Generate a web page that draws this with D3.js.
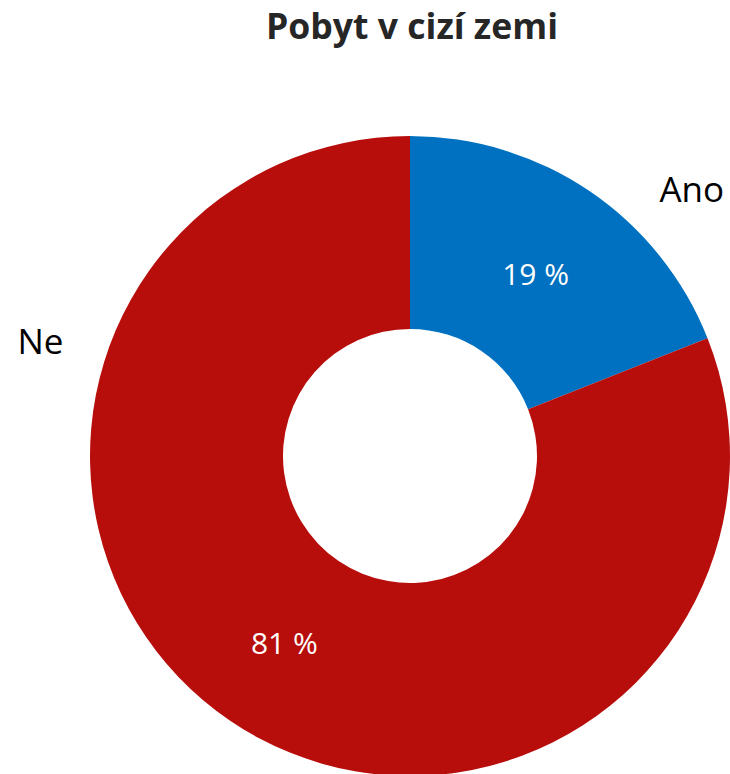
<!DOCTYPE html>
<html><head><meta charset="utf-8">
<script src="https://cdn.jsdelivr.net/npm/d3@7"></script>
<style>body{margin:0;background:#fff}svg{display:block}</style>
</head><body>
<svg id="c" width="730" height="774"></svg>
<script>
const categories = ["Ano", "Ne"];
const values = [19, 81];
const colors = ["#0070C0", "#B70D0B"];
const labelAnglesDeg = [43.1, 288.3];
const title = "Pobyt v cizí zemi";

const svg = d3.select("#c");
const font = "'Open Sans', 'Noto Sans', sans-serif";
const cx = 410, cy = 456, R = 320, r = 127, labelR = 365;

svg.append("text").attr("x", 412).attr("y", 39).attr("text-anchor", "middle")
  .attr("font-family", font).attr("font-weight", 700).attr("font-size", 35.6)
  .attr("fill", "#262626").text(title);

const data = categories.map((c, i) => ({cat: c, val: values[i], color: colors[i], la: labelAnglesDeg[i] * Math.PI / 180}));
const pie = d3.pie().value(d => d.val).sort(null);
const arc = d3.arc().innerRadius(r).outerRadius(R);
const arcs = pie(data);
const g = svg.append("g").attr("transform", `translate(${cx},${cy})`);
g.selectAll("path").data(arcs).join("path").attr("d", arc).attr("fill", d => d.data.color);

const mid = d3.arc().innerRadius((R + r) / 2).outerRadius((R + r) / 2);
g.selectAll("text.pct").data(arcs).join("text").attr("class", "pct")
  .attr("transform", d => `translate(${mid.centroid(d)})`)
  .attr("text-anchor", "middle").attr("dy", "0.45em")
  .attr("font-family", font).attr("font-size", 30).attr("fill", "#fff")
  .text(d => d.data.val + " %");

g.selectAll("text.lab").data(arcs).join("text").attr("class", "lab")
  .attr("x", d => labelR * Math.sin(d.data.la))
  .attr("y", d => -labelR * Math.cos(d.data.la))
  .attr("text-anchor", d => d.data.la < Math.PI ? "start" : "end")
  .attr("dy", "0.35em")
  .attr("font-family", font).attr("font-size", 35).attr("fill", "#000")
  .text(d => d.data.cat);
</script>
</body></html>
